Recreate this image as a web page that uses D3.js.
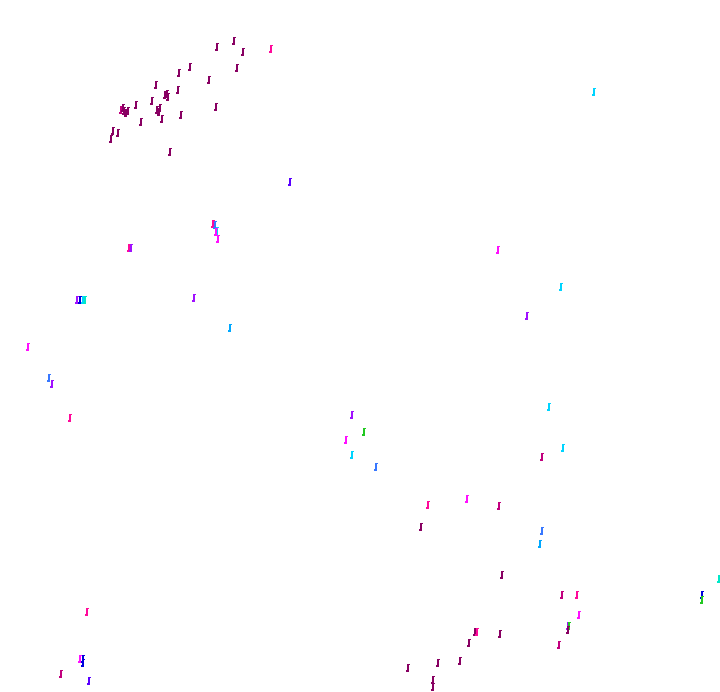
<!DOCTYPE html>
<html><head><meta charset="utf-8">
<script src="https://cdn.jsdelivr.net/npm/d3@7"></script>
<style>html,body{margin:0;padding:0;background:#fff;}svg{display:block;}</style>
</head><body>
<script>
// Data (x, y in data units; group = colour category)
const xValues = [234,217,243,271,190,237,179,209,156,178,165,167,168,152,136,124,128,121,123,126,157,159,160,216,181,162,141,113,111,118,170,
  290,213,215,217,216,218,129,131,77,80,83,85,194,230,28,49,52,70,352,364,346,352,376,549,563,542,428,467,499,421,542,540,
  502,719,562,577,702,702,579,568,569,568,475,477,500,469,559,460,438,408,433,433,87,80,83,83,61,89,594,498,561,527];
const yValues = [41,47,52,49,67,68,73,80,85,90,95,94,97,101,105,111,111,110,108,113,110,112,108,107,115,119,122,131,139,133,152,
  182,224,225,231,232,239,248,248,300,300,300,300,298,328,347,378,384,418,415,432,440,455,467,407,448,457,505,499,506,527,531,544,
  575,579,595,595,595,600,615,626,626,630,632,632,634,643,645,661,663,668,680,687,612,659,659,663,674,681,92,250,287,316];
const groups = ["a","a","a","c","a","a","a","a","a","a","a","a","a","a","a","a","a","b","a","a","a","a","a","a","a","a","a","a","a","a","a",
  "f","c","g","j","d","d","c","e","e","h","j","k","e","i","d","g","e","c","e","l","d","j","g","j","j","b","c","d","b","a","g","i",
  "a","k","b","c","h","l","d","e","l","a","a","c","a","a","b","a","a","a","a","a","c","d","h","h","b","f","j","d","j","e"];
const groupKeys = ["a","b","c","d","e","f","g","h","i","j","k","l"];
const groupColors = ["#880062","#c2007e","#ff0a9a","#ff10ff","#a010ff","#5a00ff","#3878ff","#0000dd","#00a8ff","#00d4ff","#00e8c8","#22c822"];

const W = 720, H = 692;
const svg = d3.select("body").append("svg").attr("width", W).attr("height", H);
svg.append("rect").attr("width", W).attr("height", H).attr("fill", "#fff");

const x = d3.scaleLinear().domain([0, 720]).range([0, W]);
const y = d3.scaleLinear().domain([0, 692]).range([0, H]);
const color = d3.scaleOrdinal().domain(groupKeys).range(groupColors);

const points = xValues.map((v, i) => ({x: v, y: yValues[i], g: groups[i]}));

function glyph(cx, cy) {
  const p = d3.path();
  // small hooked stroke
  p.rect(cx - 1, cy - 4, 2, 8);
  p.rect(cx + 1, cy - 4, 1, 1);
  p.rect(cx - 2, cy + 2, 1, 2);
  return p.toString();
}

svg.append("g").selectAll("path").data(points).join("path")
  .attr("d", d => glyph(Math.round(x(d.x)), Math.round(y(d.y))))
  .attr("fill", d => color(d.g))
  .attr("shape-rendering", "crispEdges");
</script>
</body></html>
